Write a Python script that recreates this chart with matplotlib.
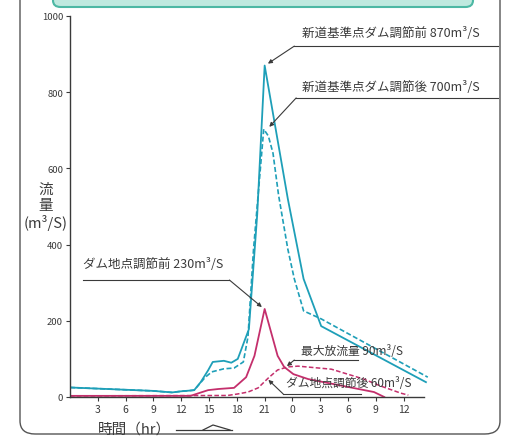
import matplotlib
matplotlib.use("Agg")
import matplotlib.pyplot as plt
from matplotlib.patches import FancyBboxPatch
from matplotlib.lines import Line2D

plt.rcParams['font.family'] = ['Noto Sans CJK JP', 'DejaVu Sans']

# hours from the start of the chart (0 = left edge), flows in m3/s
# 新道基準点 ダム調節前
shindo_before_h = [0, 3, 6, 9, 11, 12, 13, 13.4, 14.1, 14.9, 15.4, 16.6, 17.4, 18.1, 19.3,
                   20.2, 21, 23.5, 25.2, 27.1, 38.4]
shindo_before_v = [25, 22, 19, 16, 12, 15, 17, 18, 39, 70, 92, 95, 90, 100, 178,
                   480, 870, 520, 310, 186, 39]
# 新道基準点 ダム調節後
shindo_after_h = [0, 3, 6, 9, 11, 12, 13, 13.4, 14.6, 15.3, 16.6, 17.7, 18.7, 19.2,
                  19.8, 20.9, 21.4, 21.9, 22.5, 23.5, 24.2, 25.2, 27.1, 38.6]
shindo_after_v = [25, 22, 19, 16, 12, 15, 17, 18, 52, 66, 74, 76, 92, 158,
                  388, 703, 685, 640, 530, 388, 310, 226, 205, 52]
# ダム地点 調節前
dam_before_h = [0, 13, 14.9, 16.0, 17.7, 19.0, 19.9, 21.0, 22.4, 23.1, 24.1, 25.7, 32.8, 33.9]
dam_before_v = [3, 3, 18, 21, 24, 52, 108, 231, 108, 79, 60, 47, 13, 0]
# ダム地点 調節後
dam_after_h = [0, 17.0, 18.1, 19.2, 20.3, 21.4, 22.4, 23.5, 24.6, 28.2, 31.7, 33.5, 35.7, 36.5]
dam_after_v = [3, 4, 8, 13, 24, 50, 71, 79, 81, 73, 47, 29, 10, 5]

x_ticks = [3, 6, 9, 12, 15, 18, 21, 24, 27, 30, 33, 36]
x_labels = ['3', '6', '9', '12', '15', '18', '21', '0', '3', '6', '9', '12']
y_ticks = [0, 200, 400, 600, 800, 1000]

blue = '#1e9fb8'
red = '#c42f6c'
ink = '#3a3a3a'

fig = plt.figure(figsize=(5.06, 4.39), dpi=100)
ax = fig.add_axes([70 / 506, 41 / 439, 361.5 / 506, 381 / 439])

ax.plot(shindo_before_h, shindo_before_v, color=blue, lw=1.3)
ax.plot(shindo_after_h, shindo_after_v, color=blue, lw=1.2, ls=(0, (3, 1.5)))
ax.plot(dam_before_h, dam_before_v, color=red, lw=1.3)
ax.plot(dam_after_h, dam_after_v, color=red, lw=1.1, ls=(0, (3, 1.5)))

ax.set_xlim(0, 39)
ax.set_ylim(0, 1000)
ax.spines['top'].set_visible(False)
ax.spines['right'].set_visible(False)
ax.spines['bottom'].set_bounds(0, 38.2)
ax.set_xticks(x_ticks)
ax.set_xticklabels(x_labels)
ax.set_yticks(y_ticks)
ax.tick_params(axis='both', labelsize=7.5, length=3, width=0.8, colors=ink, pad=2)
ax.tick_params(axis='y', labelsize=6.8)
for s in ('left', 'bottom'):
    ax.spines[s].set_color(ink)
    ax.spines[s].set_linewidth(1.0)


# labels with underline and arrow: text pos, underline (x0, x1, y), arrow start x, arrow tip
def callout(text, tx, ty, ux0, ux1, uy, ax_from, tip, size=9):
    ax.text(tx, ty, text, fontsize=size, color=ink, va='center', ha='left')
    ax.plot([ux0, ux1], [uy, uy], color=ink, lw=0.8, clip_on=False)
    ax.annotate('', xy=tip, xytext=(ax_from, uy),
                arrowprops=dict(arrowstyle='-|>', color=ink, lw=0.8,
                                mutation_scale=6, shrinkA=0, shrinkB=0),
                annotation_clip=False)


callout('新道基準点ダム調節前 870m³/S', 25.0, 958, 24.2, 46.2, 921, 24.2, (21.35, 875))
callout('新道基準点ダム調節後 700m³/S', 25.0, 815, 24.4, 46.2, 785, 24.4, (21.5, 709))
callout('ダム地点調節前 230m³/S', 1.4, 350, 1.4, 17.2, 307, 17.2, (20.7, 236))
callout('最大放流量 90m³/S', 24.9, 121, 24.2, 31.1, 97, 24.2, (23.4, 81), size=8.5)
callout('ダム地点調節後 60m³/S', 23.3, 38, 23.0, 31.4, 8, 23.0, (21.4, 45), size=8.5)

# axis titles
fig.text(46 / 506, 1 - 207 / 439, '流\n量\n(m³/S)', ha='center', va='center',
         fontsize=10.5, color=ink, linespacing=1.15)
fig.text(98 / 506, 1 - 430 / 439, '時間（hr）', ha='left', va='center',
         fontsize=10.5, color=ink)
px = fig.transFigure


def fx(x):
    return x / 506


def fy(y):
    return 1 - y / 439


fig.add_artist(Line2D([fx(176), fx(232)], [fy(431), fy(431)], color=ink, lw=0.9, transform=px))
fig.add_artist(Line2D([fx(203), fx(213), fx(230)], [fy(431), fy(426), fy(431)],
                      color=ink, lw=0.9, transform=px))

# outer frame and the teal heading box cut at the top
fig.add_artist(FancyBboxPatch((fx(20), fy(435)), fx(480), 1.2,
                              boxstyle='round,pad=0,rounding_size=0.03',
                              transform=px, fc='none', ec='#555555', lw=1.0))
fig.add_artist(FancyBboxPatch((fx(53), fy(8)), fx(420), 0.1,
                              boxstyle='round,pad=0,rounding_size=0.015',
                              transform=px, fc='#bfe9df', ec='#4db8a4', lw=1.5))

fig.savefig('out.png', dpi=100)
